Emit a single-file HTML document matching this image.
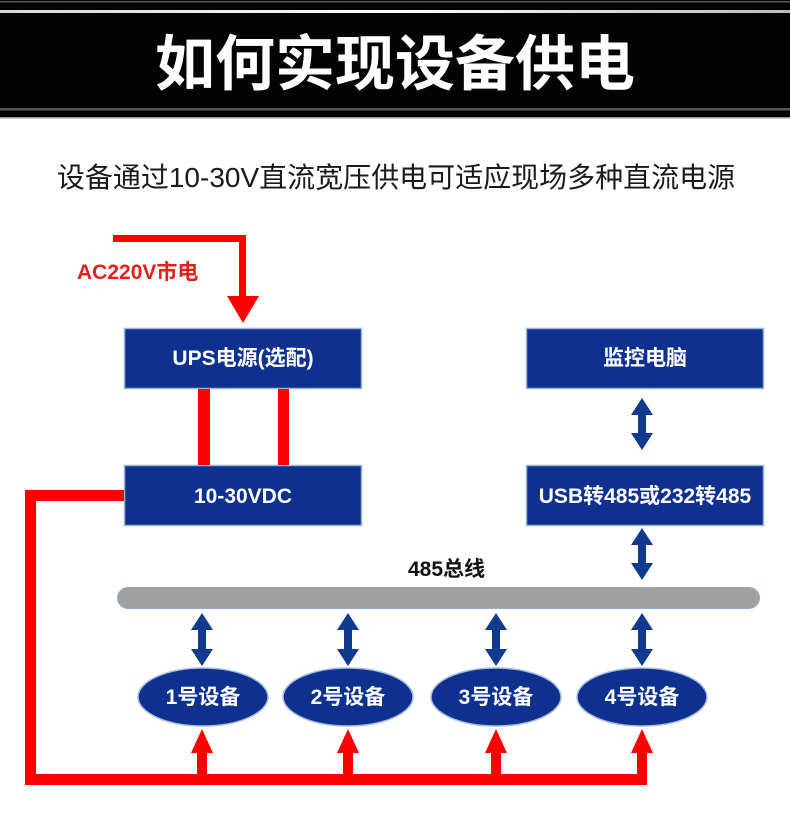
<!DOCTYPE html>
<html><head><meta charset="utf-8"><style>
html,body{margin:0;padding:0;background:#fff;}
svg{display:block;}
text{font-family:"Liberation Sans","Noto Sans CJK SC",sans-serif;}
</style></head><body>
<svg width="790" height="818" viewBox="0 0 790 818" xmlns="http://www.w3.org/2000/svg">
<defs>
<linearGradient id="wl" x1="0" y1="0" x2="1" y2="0">
<stop offset="0" stop-color="#d8d8d8"/><stop offset="0.5" stop-color="#ffffff"/><stop offset="1" stop-color="#bcbcbc"/>
</linearGradient>
</defs>
<!-- header -->
<rect x="0" y="0" width="790" height="118" fill="#030303"/>
<rect x="0" y="1" width="790" height="1.5" fill="#5a5a5a"/>
<rect x="0" y="10" width="790" height="3" fill="url(#wl)"/>
<rect x="0" y="108" width="790" height="2.5" fill="#585858"/>
<rect x="0" y="117" width="790" height="1.5" fill="#9a9a9a"/>
<text x="395" y="85" text-anchor="middle" font-size="60" font-weight="bold" fill="#fff" style="font-family:'Noto Sans CJK SC',sans-serif">如何实现设备供电</text>

<text x="396" y="187" text-anchor="middle" font-size="28" fill="#1a1a1a">设备通过10-30V直流宽压供电可适应现场多种直流电源</text>

<!-- AC red line -->
<rect x="113" y="235" width="133" height="7" fill="#ff0000"/>
<rect x="239" y="235" width="7" height="63" fill="#ff0000"/>
<polygon points="227,296 259,296 243,323" fill="#ff0000"/>
<text x="77" y="279" font-size="21" font-weight="bold" fill="#e8201c">AC220V市电</text>

<!-- boxes -->
<rect x="124.5" y="328.5" width="237" height="60" fill="#0e3190" stroke="#9db3d6" stroke-width="1.5"/>
<text x="243" y="365" text-anchor="middle" font-size="21" font-weight="bold" fill="#fff">UPS电源(选配)</text>

<rect x="124.5" y="465.5" width="237" height="60" fill="#0e3190" stroke="#9db3d6" stroke-width="1.5"/>
<text x="243" y="503" text-anchor="middle" font-size="21" font-weight="bold" fill="#fff">10-30VDC</text>

<rect x="526.5" y="328.5" width="237" height="60" fill="#0e3190" stroke="#9db3d6" stroke-width="1.5"/>
<text x="645" y="365" text-anchor="middle" font-size="21" font-weight="bold" fill="#fff">监控电脑</text>

<rect x="526.5" y="465.5" width="237" height="60" fill="#0e3190" stroke="#9db3d6" stroke-width="1.5"/>
<text x="645" y="503" text-anchor="middle" font-size="21" font-weight="bold" fill="#fff">USB转485或232转485</text>

<!-- red bars between UPS and DC -->
<rect x="198" y="389" width="12" height="76" fill="#ff0000"/>
<rect x="278" y="389" width="11" height="76" fill="#ff0000"/>

<!-- left red feed -->
<rect x="25" y="490" width="99" height="11" fill="#ff0000"/>
<rect x="25" y="490" width="11" height="295" fill="#ff0000"/>
<rect x="25" y="774" width="622" height="11" fill="#ff0000"/>

<!-- red up arrows -->
<g fill="#ff0000">
<rect x="197" y="752" width="10" height="25"/><polygon points="191,753 213,753 202,729"/>
<rect x="343" y="752" width="10" height="25"/><polygon points="337,753 359,753 348,729"/>
<rect x="491" y="752" width="10" height="25"/><polygon points="485,753 507,753 496,729"/>
<rect x="637" y="752" width="10" height="25"/><polygon points="631,753 653,753 642,729"/>
</g>

<!-- bus -->
<rect x="117.5" y="587.5" width="642" height="21" rx="10.5" ry="10.5" fill="#a0a0a0" stroke="#94a8cc" stroke-width="1"/>
<text x="408" y="576" font-size="21" font-weight="bold" fill="#111">485总线</text>

<!-- blue double arrows -->
<g fill="#0f3a8e">
<polygon points="642,398 653,415 646,415 646,433 653,433 642,450 631,433 638,433 638,415 631,415"/>
<polygon points="642,528 653,545 646,545 646,563 653,563 642,580 631,563 638,563 638,545 631,545"/>
<polygon points="202,613 213,630 206,630 206,649 213,649 202,666 191,649 198,649 198,630 191,630"/>
<polygon points="348,613 359,630 352,630 352,649 359,649 348,666 337,649 344,649 344,630 337,630"/>
<polygon points="496,613 507,630 500,630 500,649 507,649 496,666 485,649 492,649 492,630 485,630"/>
<polygon points="642,613 653,630 646,630 646,649 653,649 642,666 631,649 638,649 638,630 631,630"/>
</g>

<!-- device ellipses -->
<g fill="#0e3190" stroke="#a9bde0" stroke-width="1.5">
<ellipse cx="203" cy="697" rx="65" ry="29"/>
<ellipse cx="348" cy="697" rx="65" ry="29"/>
<ellipse cx="496" cy="697" rx="65" ry="29"/>
<ellipse cx="642" cy="697" rx="65" ry="29"/>
</g>
<g font-size="21" font-weight="bold" fill="#fff" text-anchor="middle">
<text x="203" y="704">1号设备</text>
<text x="348" y="704">2号设备</text>
<text x="496" y="704">3号设备</text>
<text x="642" y="704">4号设备</text>
</g>
</svg>
</body></html>
